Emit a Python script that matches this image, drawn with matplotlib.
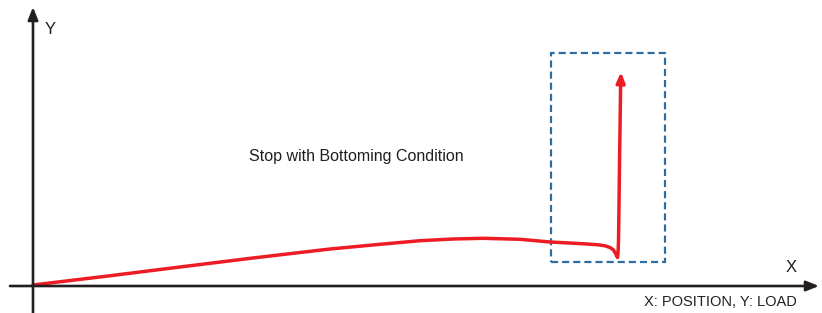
import matplotlib
matplotlib.use("Agg")
import matplotlib.pyplot as plt
from matplotlib.patches import Rectangle

plt.rcParams['font.family'] = ['Liberation Sans', 'DejaVu Sans']

# Curve (position, load) in pixel-like units, origin at the axis intersection
position = [0, 75, 147, 220, 297, 345, 387, 420, 450, 487, 517, 540, 554, 565, 572, 577, 580,
            582, 583.5, 584.5, 585, 585.5, 586, 586.6, 587.2, 587.6]
load = [1, 10, 19, 28, 37, 41.5, 45.3, 47, 47.7, 46.7, 44, 42.8, 42, 41.2, 40.2, 38.5, 36.5,
        33.5, 30.5, 28.5, 32, 45, 80, 130, 170, 200]
arrow_tip = (588, 214)

# Highlight box (x0, y0, width, height)
box = (518, 24, 114, 209)

title = "Stop with Bottoming Condition"
x_label = "X"
y_label = "Y"
legend_note = "X: POSITION, Y: LOAD"

fig = plt.figure(figsize=(8.22, 3.13), dpi=100)
ax = fig.add_axes([0, 0, 1, 1])
ax.set_xlim(-33, 789)
ax.set_ylim(-27, 286)
ax.axis('off')

axis_color = '#231f20'
red = '#ed1c24'
blue = '#2e6da4'

# axes with arrows
ax.annotate('', xy=(0, 279), xytext=(0, -27),
            arrowprops=dict(arrowstyle='-|>,head_length=0.75,head_width=0.3', color=axis_color, lw=1.9, shrinkA=0, shrinkB=0))
ax.annotate('', xy=(786, 0), xytext=(-23, 0),
            arrowprops=dict(arrowstyle='-|>,head_length=0.75,head_width=0.3', color=axis_color, lw=1.9, shrinkA=0, shrinkB=0))

# dashed box
ax.add_patch(Rectangle((box[0], box[1]), box[2], box[3], fill=False, edgecolor=blue,
                       lw=1.6, linestyle=(0, (3.2, 1.8))))

# curve
ax.plot(position, load, color=red, lw=2.5, solid_capstyle='round', solid_joinstyle='round')
ax.annotate('', xy=arrow_tip, xytext=(position[-1], load[-1]),
            arrowprops=dict(arrowstyle='-|>,head_length=0.6,head_width=0.25', color=red, lw=2.5, shrinkA=0, shrinkB=0))

ax.text(323.5, 130, title, fontsize=11.5, ha='center', va='center', color='#231f20')
ax.text(758, 19, x_label, fontsize=12, ha='center', va='center', color='#231f20')
ax.text(17, 256, y_label, fontsize=12, ha='center', va='center', color='#231f20')
ax.text(764, -16, legend_note, fontsize=10.5, ha='right', va='center', color='#231f20')

fig.savefig('out.png', dpi=100)
